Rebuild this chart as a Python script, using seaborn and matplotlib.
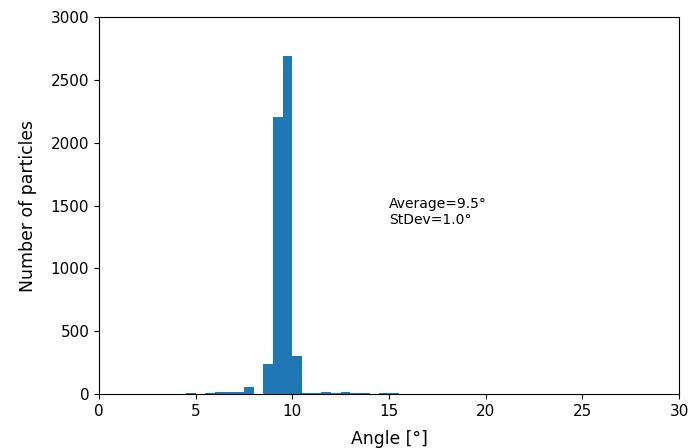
import matplotlib
matplotlib.use("Agg")
import matplotlib.pyplot as plt
import seaborn as sns
import numpy as np
import pandas as pd

# Histogram bins (left edges, degrees) and counts
bin_left = [4.5, 5.0, 5.5, 6.0, 6.5, 7.0, 7.5, 8.0, 8.5, 9.0, 9.5, 10.0,
            10.5, 11.0, 11.5, 12.0, 12.5, 13.0, 13.5, 14.0, 14.5, 15.0]
counts = [10, 0, 5, 20, 20, 20, 55, 3, 235, 2205, 2690, 305,
          12, 8, 20, 10, 20, 8, 5, 0, 10, 10]
bin_width = 0.5
stats_text = ["Average=9.5°", "StDev=1.0°"]

df = pd.DataFrame({"angle": np.array(bin_left) + bin_width / 2,
                   "count": counts})
edges = list(bin_left) + [bin_left[-1] + bin_width]

fig = plt.figure(figsize=(6.88, 4.48), dpi=100)
ax = fig.add_axes([0.1439, 0.1205, 0.8431, 0.8415])
sns.histplot(data=df, x="angle", weights="count", bins=edges, ax=ax,
             color="#1f77b4", alpha=1, linewidth=0, edgecolor="none")
ax.set_xlim(0, 30)
ax.set_ylim(0, 3000)
ax.tick_params(labelsize=11)
ax.set_xlabel("Angle [°]", fontsize=12.4, labelpad=8)
ax.set_ylabel("Number of particles", fontsize=12.4, labelpad=10)
ax.text(15, 1350, "\n".join(stats_text), fontsize=10)
fig.savefig("out.png", dpi=100)
